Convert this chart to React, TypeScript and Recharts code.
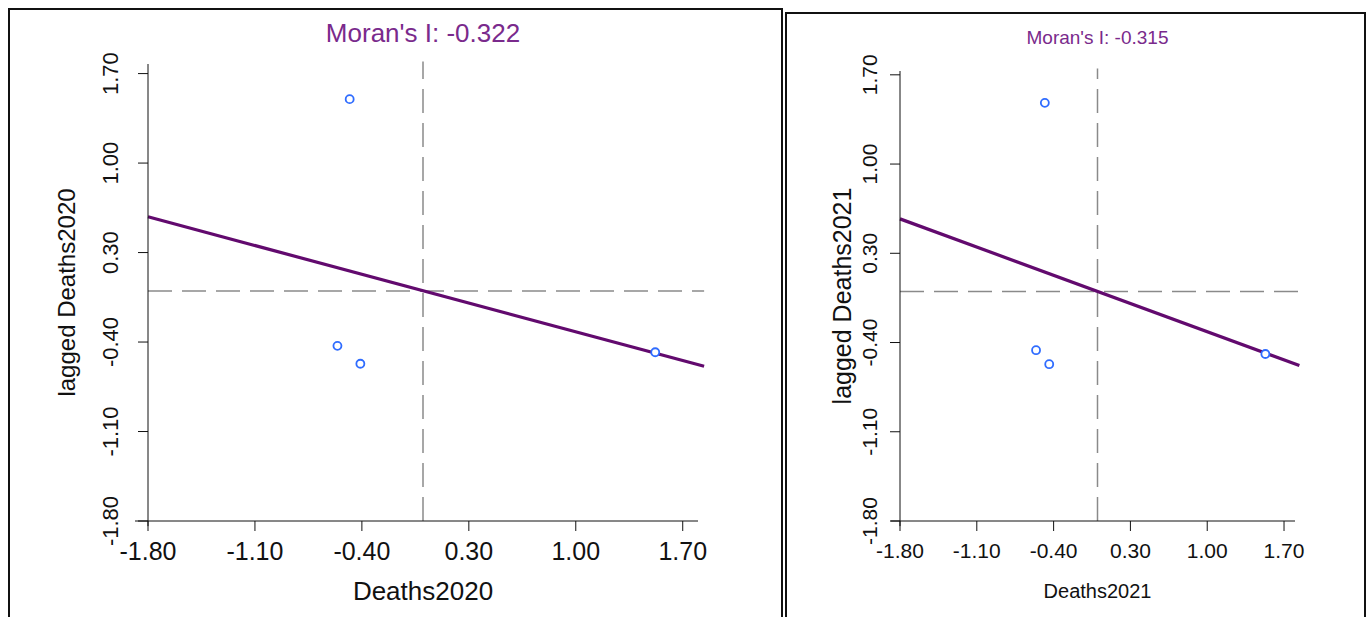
import { ScatterChart, Scatter, XAxis, YAxis, ReferenceLine, Label } from "recharts";

const tickValues = [-1.8, -1.1, -0.4, 0.3, 1.0, 1.7];

const deaths2020 = [-0.48, -0.56, -0.41, 1.52];
const lagged2020 = [1.5, -0.43, -0.57, -0.48];
const deaths2021 = [-0.48, -0.56, -0.44, 1.53];
const lagged2021 = [1.48, -0.46, -0.57, -0.49];

// ends of the fitted line
const fitX = [-1.8, 1.84];
const fitY2020 = [0.58, -0.59];
const fitY2021 = [0.57, -0.58];

const AXIS_FONT = "Arial, 'Liberation Sans', sans-serif";
const BLUE = "#2f6cff";
const PURPLE = "#620a6e";
const DASH = "#8a8a8a";

interface PanelProps {
  xs: number[];
  ys: number[];
  fitY: number[];
  title: string;
  xLabel: string;
  yLabel: string;
  left: number;
  width: number;
  margin: { top: number; right: number; bottom: number; left: number };
  yTop: number;
  xTickFont: number;
  xTickMargin: number;
  yTickFont: number;
  yTickMargin: number;
  xLabelFont: number;
  xLabelOffset: number;
  yLabelFont: number;
  yLabelOffset: number;
  titleFont: number;
  titleTop: number;
}

function dot(props: any) {
  const { cx, cy } = props;
  return <circle cx={cx} cy={cy} r={4} fill="white" stroke={BLUE} strokeWidth={1.8} />;
}

function MoranPanel(p: PanelProps) {
  const points = p.xs.map((x, i) => ({ x, y: p.ys[i] }));

  const yTick = (props: any) => {
    const { x, y, payload } = props;
    return (
      <text x={x} y={y} transform={`rotate(-90 ${x} ${y})`} textAnchor="middle"
        fontSize={p.yTickFont} fontFamily={AXIS_FONT} fill="#111">
        {payload.value.toFixed(2)}
      </text>
    );
  };

  return (
    <div style={{ position: "absolute", left: p.left, top: 0 }}>
      <div style={{
        position: "absolute", left: 0, width: p.width, top: p.titleTop, textAlign: "center",
        paddingLeft: p.margin.left + 80 - p.margin.right, boxSizing: "border-box",
        fontFamily: AXIS_FONT, fontSize: p.titleFont, color: "#7a2a8c", lineHeight: 1,
        whiteSpace: "nowrap",
      }}>
        {p.title}
      </div>
      <ScatterChart width={p.width} height={617} margin={p.margin}>
        <XAxis type="number" dataKey="x" domain={[-1.8, 1.8]} ticks={tickValues}
          allowDataOverflow tickFormatter={(v: number) => v.toFixed(2)}
          stroke="#111" tickSize={10} tickMargin={p.xTickMargin} height={80}
          tick={{ fill: "#111", fontSize: p.xTickFont, fontFamily: AXIS_FONT }}>
          <Label content={(lp: any) => {
            const vb = lp.viewBox;
            return (
              <text x={vb.x + vb.width / 2} y={vb.y + p.xLabelOffset} textAnchor="middle"
                fontSize={p.xLabelFont} fontFamily={AXIS_FONT} fill="#111">{p.xLabel}</text>
            );
          }} />
        </XAxis>
        <YAxis type="number" dataKey="y" domain={[-1.8, p.yTop]} ticks={tickValues}
          allowDataOverflow stroke="#111" tickSize={10} tickMargin={p.yTickMargin} width={80}
          tick={yTick}>
          <Label content={(lp: any) => {
            const vb = lp.viewBox;
            const cx = vb.x + p.yLabelOffset;
            const cy = vb.y + vb.height / 2;
            return (
              <text x={cx} y={cy} transform={`rotate(-90 ${cx} ${cy})`} textAnchor="middle"
                fontSize={p.yLabelFont} fontFamily={AXIS_FONT} fill="#111">{p.yLabel}</text>
            );
          }} />
        </YAxis>
        <ReferenceLine segment={[{ x: -1.885, y: -1.8 }, { x: -1.8, y: -1.8 }]}
          stroke="#111" ifOverflow="visible" />
        <ReferenceLine segment={[{ x: -1.8, y: -1.84 }, { x: -1.8, y: -1.8 }]}
          stroke="#111" ifOverflow="visible" />
        <ReferenceLine segment={[{ x: -1.8, y: 0 }, { x: 1.84, y: 0 }]}
          stroke={DASH} strokeWidth={1.5} strokeDasharray="24 10" ifOverflow="visible" />
        <ReferenceLine segment={[{ x: 0, y: -1.8 }, { x: 0, y: p.yTop + 0.02 }]}
          stroke={DASH} strokeWidth={1.5} strokeDasharray="24 10" ifOverflow="visible" />
        <ReferenceLine segment={[{ x: fitX[0], y: p.fitY[0] }, { x: fitX[1], y: p.fitY[1] }]}
          stroke={PURPLE} strokeWidth={3.2} ifOverflow="visible" />
        <Scatter data={points} shape={dot} isAnimationActive={false} />
      </ScatterChart>
    </div>
  );
}

export default function App() {
  return (
    <div style={{ position: "absolute", left: 0, top: 0, width: 1370, height: 617, overflow: "hidden", background: "white" }}>
      <div style={{ position: "absolute", left: 8, top: 8, width: 771, height: 640, border: "2px solid #111" }} />
      <div style={{ position: "absolute", left: 785, top: 12, width: 577, height: 640, border: "2px solid #111" }} />
      <MoranPanel xs={deaths2020} ys={lagged2020} fitY={fitY2020}
        title="Moran's I: -0.322" xLabel="Deaths2020" yLabel="lagged Deaths2020"
        left={0} width={780} margin={{ top: 64, right: 82, bottom: 16, left: 68 }}
        yTop={1.775} xTickFont={25} xTickMargin={11} yTickFont={22} yTickMargin={20}
        xLabelFont={26} xLabelOffset={79} yLabelFont={24} yLabelOffset={7}
        titleFont={26} titleTop={20} />
      <MoranPanel xs={deaths2021} ys={lagged2021} fitY={fitY2021}
        title="Moran's I: -0.315" xLabel="Deaths2021" yLabel="lagged Deaths2021"
        left={782} width={588} margin={{ top: 71, right: 75, bottom: 16, left: 38 }}
        yTop={1.73} xTickFont={21} xTickMargin={12} yTickFont={21} yTickMargin={13}
        xLabelFont={20} xLabelOffset={77} yLabelFont={25} yLabelOffset={31}
        titleFont={19} titleTop={28} />
    </div>
  );
}
